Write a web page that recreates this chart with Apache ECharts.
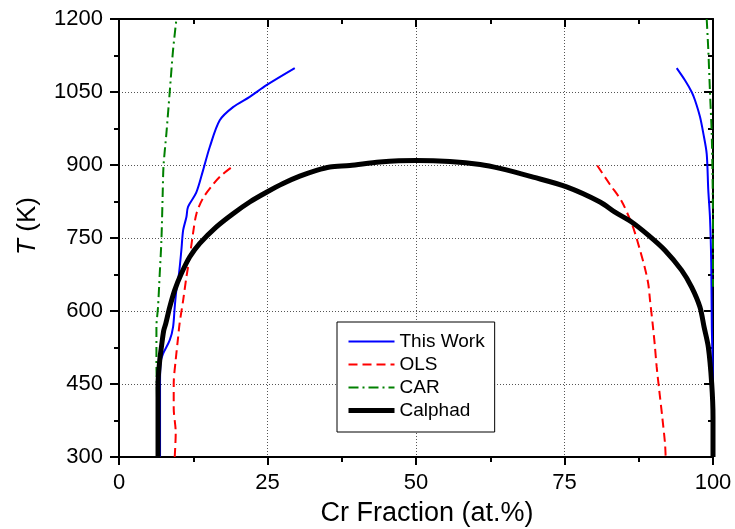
<!DOCTYPE html>
<html><head><meta charset="utf-8">
<script src="https://cdn.jsdelivr.net/npm/echarts@6/dist/echarts.min.js"></script>
<style>html,body{margin:0;padding:0;background:#fff}#c{width:735px;height:529px}</style>
</head><body><div id="c"></div>
<script>
// [Cr fraction (at.%), T (K)]
const calphad = [[6.57,300],[6.57,382],[6.57,450],[6.86,499],[7.14,526],[7.53,560],[7.87,574],[8.54,608],[9.38,643],[10.5,677],[11.9,711],[13.6,739],[16.4,773],[19.2,800],[22.01,824],[24.83,844],[27.62,862],[30.44,877],[33.25,889],[35.5,896],[38.86,899],[43.9,906],[50,909],[55.7,907],[60.8,901],[64.14,893],[69.73,875],[75.36,855],[80.98,824],[83.5,803],[86.3,783],[89.1,756],[91.9,725],[94.7,684],[96.4,649],[97.8,608],[98.5,567],[99.21,526],[99.78,451],[100,382],[100,300]];
const thisWorkLeft = [[6.91,300],[6.91,451],[7.02,495],[7.41,512],[8.54,540],[9.1,567],[9.38,608],[9.66,643],[10.1,677],[10.5,725],[10.8,766],[11.35,793],[11.62,814],[13.0,843],[14.15,889],[15.28,937],[16.96,992],[19.2,1019],[22.01,1040],[24.83,1064],[29.59,1099]];
const thisWorkRight = [[93.89,1099],[95.28,1074],[96.41,1050],[96.97,1033],[97.81,999],[98.37,965],[98.94,923],[99.2,850],[99.5,790],[99.7,700],[99.8,567],[100,450],[100,300]];
const olsLeft = [[9.38,300],[9.55,350],[9.21,400],[9.21,450],[9.55,500],[9.9,540],[10.2,574],[10.8,622],[11.35,670],[11.9,711],[12.46,759],[13.04,800],[14.15,832],[15.83,860],[17.25,879],[19.37,899]];
const olsRight = [[80.51,899],[82.65,860],[84.6,826],[86.3,780],[86.9,759],[87.6,730],[88.5,690],[89.1,656],[89.4,622],[89.9,567],[90.2,530],[90.52,485],[90.95,437],[91.46,382],[91.92,328],[92.03,300]];
const carLeft = [[6.47,300],[6.40,417],[6.30,499],[6.3,567],[6.57,608],[6.86,677],[7.14,745],[7.35,838],[7.5,899],[7.98,965],[8.54,1050],[9.10,1136],[9.67,1200]];
const carRight = [[98.94,1200],[99.21,1136],[99.49,1050],[99.78,965],[99.94,862],[100,749],[100,650]];
const legendNames = ['This Work','OLS','CAR','Calphad'];

const FONT = 'Liberation Sans, Arial, sans-serif';
const chart = echarts.init(document.getElementById('c'), null, {renderer:'canvas'});
function xAx(pos){
  const top = pos === 'top';
  return {type:'value', position:pos, min:0, max:100, interval:25,
    axisLine:{show:true, onZero:false, lineStyle:{color:'#000', width:2}},
    axisTick:{show:true, inside:top, length:8, lineStyle:{color:'#000', width:2}},
    minorTick:{show:true, splitNumber:2, length:5, lineStyle:{color:'#000', width:2}},
    axisLabel:{show:!top, fontSize:22, color:'#000', margin:15, fontFamily:FONT, formatter:v=>String(v)},
    splitLine:{show:!top, lineStyle:{color:'#555', type:[1,2], width:1}},
    minorSplitLine:{show:false}};
}
function yAx(pos){
  const right = pos === 'right';
  return {type:'value', position:pos, min:300, max:1200, interval:150,
    axisLine:{show:true, onZero:false, lineStyle:{color:'#000', width:2}},
    axisTick:{show:true, inside:right, length:9, lineStyle:{color:'#000', width:2}},
    minorTick:{show:true, splitNumber:2, length:5, lineStyle:{color:'#000', width:2}},
    axisLabel:{show:!right, fontSize:22, color:'#000', margin:16, fontFamily:FONT, formatter:v=>String(v)},
    splitLine:{show:!right, lineStyle:{color:'#555', type:[1,2], width:1}},
    minorSplitLine:{show:false}};
}
function ser(name, data, color, width, type, z){
  return {name, type:'line', data, xAxisIndex:0, yAxisIndex:0, symbol:'none', showSymbol:false,
    smooth:0.3, z, lineStyle:{color, width, type}, itemStyle:{color}, animation:false};
}
const widths = {'This Work':2, 'OLS':2, 'CAR':2, 'Calphad':5};
chart.setOption({
  animation:false,
  backgroundColor:'#fff',
  grid:{left:119, right:22, top:19, bottom:72, containLabel:false},
  xAxis:[xAx('bottom'), xAx('top')],
  yAxis:[yAx('left'), yAx('right')],
  legend:{data:legendNames.map(n=>({name:n, lineStyle:{width:widths[n]}})), orient:'vertical', left:337, top:322,
    backgroundColor:'#fff', borderColor:'#000', borderWidth:1,
    padding:[10,10,12,9], itemWidth:46, itemHeight:14, itemGap:4,
    itemStyle:{opacity:0},
    textStyle:{fontSize:19, color:'#000', fontFamily:FONT}},
  series:[
    ser('This Work', thisWorkLeft, '#0000ff', 2, 'solid', 2),
    ser('This Work', thisWorkRight, '#0000ff', 2, 'solid', 2),
    ser('OLS', olsLeft, '#ff0000', 2, [9,5], 3),
    ser('OLS', olsRight, '#ff0000', 2, [9,5], 3),
    ser('CAR', carLeft, '#008000', 2, [10,4,2,4], 4),
    ser('CAR', carRight, '#008000', 2, [10,4,2,4], 4),
    ser('Calphad', calphad, '#000000', 5, 'solid', 5)
  ],
  graphic:[
    {type:'text', x:427, y:514, z:10, style:{text:'Cr Fraction (at.%)', fontSize:27, fontFamily:FONT, fill:'#000', align:'center', verticalAlign:'middle'}},
    {type:'text', x:28, y:226, rotation:Math.PI/2, z:10, style:{text:'{i|T} (K)', fontSize:26, fontFamily:FONT, fill:'#000', align:'center', verticalAlign:'middle', rich:{i:{fontStyle:'italic', fontSize:26, fontFamily:FONT, fill:'#000'}}}}
  ]
});
</script></body></html>
